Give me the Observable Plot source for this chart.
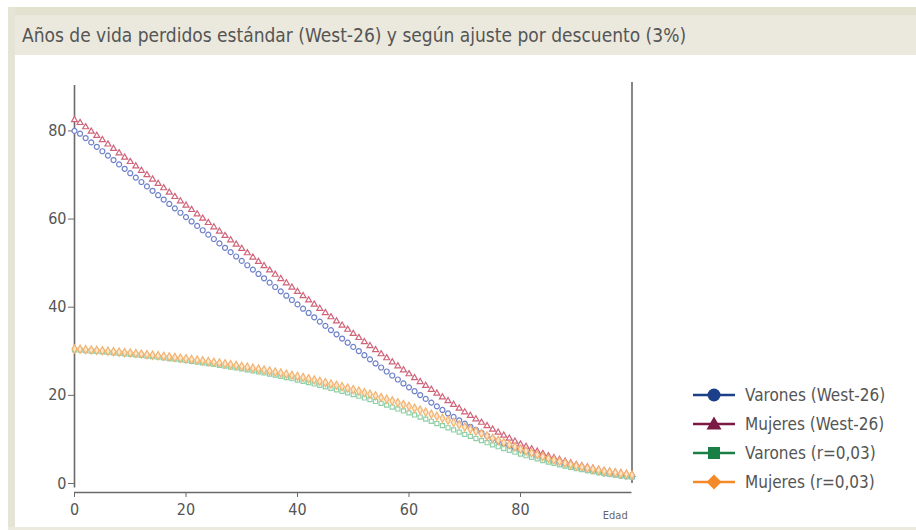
<!DOCTYPE html>
<html>
<head>
<meta charset="utf-8">
<script src="https://cdn.jsdelivr.net/npm/d3@7"></script>
<script src="https://cdn.jsdelivr.net/npm/@observablehq/plot@0.6"></script>
<style>
  html, body { margin: 0; padding: 0; background: #fff; }
  #wrap { position: relative; width: 916px; height: 530px; overflow: hidden; background: #fff;
          font-family: "DejaVu Sans Condensed", "DejaVu Sans", sans-serif; }
  #topstrip { position: absolute; left: 8px; top: 7px; width: 908px; height: 8px; background: #e3e1cf; }
  #leftstrip { position: absolute; left: 8px; top: 7px; width: 7px; height: 521px; background: #e6e4d5; }
  #bottomstrip { position: absolute; left: 8px; top: 527px; width: 908px; height: 3px; background: #eceadf; }
  #title { position: absolute; left: 15px; top: 15px; width: 901px; height: 40px; background: #ebe9dd;
           color: #555; font-size: 19px; line-height: 40px; padding-left: 7px; box-sizing: border-box; white-space: nowrap; }
  #chart { position: absolute; left: 0; top: 55px; }
  #legend { position: absolute; left: 690px; top: 380px; color: #555; font-size: 17px; }
  .row { display: flex; align-items: center; height: 29px; }
  .row svg { margin-right: 9px; }
</style>
</head>
<body>
<div id="wrap">
  <div id="topstrip"></div>
  <div id="leftstrip"></div>
  <div id="bottomstrip"></div>
  <div id="title"></div>
  <div id="chart"></div>
  <div id="legend"></div>
</div>
<script>
const titleText = "Años de vida perdidos estándar (West-26) y según ajuste por descuento (3%)";
const xLabel = "Edad";
const xTicks = [0, 20, 40, 60, 80];
const yTicks = [0, 20, 40, 60, 80];
const seriesNames = ["Varones (West-26)", "Mujeres (West-26)", "Varones (r=0,03)", "Mujeres (r=0,03)"];
const ages = d3.range(0, 101);

const varonesWest = [80.00,79.36,78.38,77.39,76.39,75.38,74.39,73.39,72.40,71.40,
70.40,69.40,68.41,67.41,66.41,65.41,64.42,63.42,62.43,61.43,
60.44,59.45,58.45,57.46,56.46,55.47,54.48,53.48,52.49,51.50,
50.51,49.52,48.53,47.54,46.56,45.57,44.58,43.60,42.61,41.63,
40.64,39.66,38.69,37.71,36.74,35.77,34.81,33.85,32.89,31.94,
30.99,30.05,29.11,28.17,27.24,26.32,25.41,24.50,23.60,22.70,
21.81,20.94,20.07,19.20,18.35,17.50,16.69,15.89,15.11,14.34,
13.58,12.87,12.17,11.50,10.83,10.17,9.61,9.06,8.52,7.98,
7.45,7.00,6.56,6.11,5.67,5.24,4.90,4.55,4.21,3.87,
3.54,3.30,3.05,2.80,2.56,2.31,2.14,1.97,1.80,1.63,1.46];

const mujeresWest = [82.50,81.84,80.87,79.89,78.92,77.95,76.96,75.96,74.97,73.98,
72.99,71.99,71.00,70.01,69.01,68.02,67.03,66.04,65.05,64.07,
63.08,62.10,61.12,60.13,59.15,58.17,57.19,56.21,55.23,54.25,
53.27,52.29,51.31,50.33,49.36,48.38,47.41,46.44,45.47,44.50,
43.53,42.57,41.60,40.64,39.68,38.72,37.77,36.82,35.87,34.93,
33.99,33.06,32.13,31.21,30.29,29.37,28.46,27.55,26.64,25.73,
24.83,23.95,23.07,22.19,21.31,20.44,19.59,18.74,17.89,17.04,
16.20,15.40,14.61,13.83,13.05,12.28,11.59,10.91,10.23,9.56,
8.90,8.35,7.81,7.27,6.74,6.22,5.82,5.42,5.02,4.63,
4.25,3.97,3.69,3.42,3.15,2.89,2.70,2.52,2.34,2.16,1.99];

const varonesDesc = [30.31,30.25,30.16,30.06,29.96,29.86,29.75,29.65,29.54,29.42,
29.30,29.18,29.05,28.92,28.79,28.65,28.51,28.36,28.21,28.05,
27.90,27.73,27.56,27.39,27.21,27.02,26.83,26.63,26.43,26.22,
26.01,25.79,25.56,25.33,25.09,24.84,24.58,24.32,24.05,23.77,
23.48,23.19,22.89,22.58,22.26,21.93,21.60,21.26,20.91,20.55,
20.18,19.80,19.41,19.02,18.61,18.20,17.78,17.35,16.91,16.46,
16.01,15.55,15.08,14.60,14.11,13.61,13.13,12.64,12.15,11.65,
11.15,10.68,10.20,9.73,9.25,8.77,8.35,7.93,7.52,7.10,
6.68,6.31,5.95,5.58,5.21,4.85,4.56,4.25,3.95,3.65,
3.36,3.14,2.91,2.69,2.46,2.23,2.07,1.91,1.75,1.59,1.43];

const mujeresDesc = [30.53,30.47,30.39,30.30,30.21,30.12,30.02,29.92,29.82,29.71,
29.60,29.49,29.37,29.25,29.13,29.00,28.87,28.74,28.60,28.46,
28.31,28.16,28.01,27.84,27.68,27.51,27.34,27.16,26.98,26.79,
26.59,26.39,26.18,25.97,25.75,25.53,25.29,25.06,24.81,24.56,
24.30,24.04,23.76,23.48,23.20,22.90,22.60,22.29,21.97,21.64,
21.31,20.97,20.62,20.26,19.90,19.52,19.14,18.75,18.34,17.93,
17.51,17.08,16.65,16.20,15.74,15.28,14.81,14.34,13.84,13.34,
12.83,12.33,11.83,11.32,10.80,10.27,9.79,9.30,8.81,8.31,
7.81,7.39,6.96,6.53,6.10,5.67,5.34,5.00,4.66,4.32,
3.99,3.74,3.49,3.25,3.01,2.77,2.59,2.43,2.26,2.09,1.93];

const seriesValues = [varonesWest, mujeresWest, varonesDesc, mujeresDesc];
const symbols = ["circle", "triangle", "square", "diamond"];
const markerStroke = ["#6f82c9", "#d0637a", "#8fd0a8", "#f2b372"];
const markerFill = ["#ffffff", "#ffffff", "#ffffff", "#fde6c8"];
const markerR = [2.5, 2.2, 2.3, 2.5];
const legendColors = ["#1c3f8a", "#7a1a45", "#1a7f45", "#f5892a"];

document.getElementById("title").textContent = titleText;

const rows = [];
seriesValues.forEach((vals, i) => {
  vals.forEach((v, j) => rows.push({age: ages[j], value: v, series: seriesNames[i]}));
});

const plot = Plot.plot({
  width: 916,
  height: 475,
  marginLeft: 74,
  marginRight: 284.5,
  marginTop: 30,
  marginBottom: 47,
  x: {domain: [0, 100]},
  y: {domain: [0, 90.3]},
  style: {fontFamily: '"DejaVu Sans Condensed", "DejaVu Sans", sans-serif', fontSize: "16px", color: "#555", background: "transparent", overflow: "visible"},
  marks: [
    Plot.ruleX([0], {y1: -1, y2: 90.3, stroke: "#6a6a6a", strokeWidth: 1.6}),
    Plot.ruleX([100], {y1: 0, y2: 91, stroke: "#6a6a6a", strokeWidth: 1.6}),
    Plot.ruleY([0], {x1: 0, x2: 100, dy: 9, stroke: "#6a6a6a", strokeWidth: 1.6}),
    Plot.axisY({ticks: yTicks, tickSize: 6, tickPadding: 2, label: null, stroke: "#6a6a6a", fontSize: 16}),
    Plot.axisX({ticks: xTicks, tickSize: 5, tickPadding: 6, dy: 9, label: null, stroke: "#6a6a6a", fontSize: 16}),
    ...seriesNames.map((name, i) =>
      Plot.dot(rows.filter(d => d.series === name), {
        x: "age", y: "value", symbol: () => symbols[i], r: markerR[i],
        stroke: markerStroke[i], fill: markerFill[i], strokeWidth: 1.2
      })
    ),
    Plot.text([xLabel], {x: 97, frameAnchor: "bottom", dy: 35, text: d => d, fontSize: 11, fill: "#666"})
  ]
});
document.getElementById("chart").appendChild(plot);

const legend = document.getElementById("legend");
seriesNames.forEach((lab, i) => {
  const row = document.createElement("div");
  row.className = "row";
  const c = legendColors[i];
  let sym;
  if (i === 0) sym = `<circle cx="24" cy="10" r="6.5" fill="${c}"/>`;
  else if (i === 1) sym = `<path d="M24,2.5 L31.5,15.5 L16.5,15.5 Z" fill="${c}"/>`;
  else if (i === 2) sym = `<rect x="18" y="4" width="12" height="12" fill="${c}"/>`;
  else sym = `<path d="M24,2.5 L31.5,10 L24,17.5 L16.5,10 Z" fill="${c}"/>`;
  row.innerHTML = `<svg width="46" height="20"><line x1="3" x2="45" y1="10" y2="10" stroke="${c}" stroke-width="2.5"/>${sym}</svg><span></span>`;
  row.querySelector("span").textContent = lab;
  legend.appendChild(row);
});
</script>
</body>
</html>
